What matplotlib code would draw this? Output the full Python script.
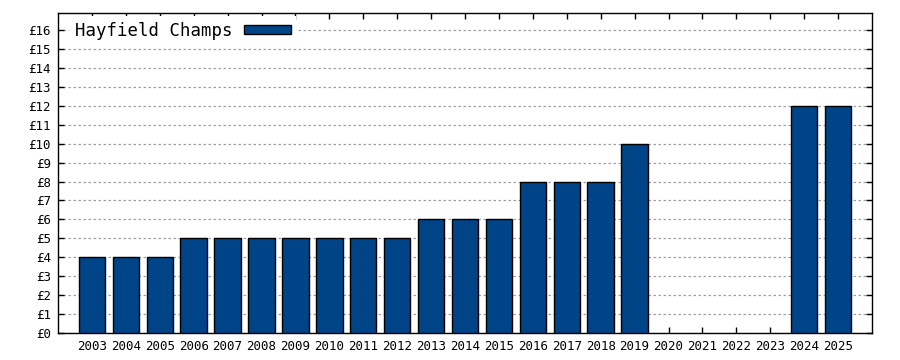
import numpy as np
import matplotlib
matplotlib.use("Agg")
import matplotlib.pyplot as plt

years = list(range(2003, 2026))
prices = [4, 4, 4, 5, 5, 5, 5, 5, 5, 5, 6, 6, 6, 8, 8, 8, 10,
          np.nan, np.nan, np.nan, np.nan, 12, 12]
series_name = "Hayfield Champs"
yticks = list(range(0, 17))
ytick_labels = [f"\u00a3{v}" for v in yticks]

plt.rcParams["font.family"] = "DejaVu Sans Mono"

fig = plt.figure(figsize=(9, 3.6), dpi=100)
ax = fig.add_axes([58 / 900, 27 / 360, 814 / 900, 320 / 360])

ax.bar(years, prices, width=0.78, color="#004488", edgecolor="black",
       linewidth=1.0, label=series_name, zorder=3)

ax.set_xlim(2002, 2026)
ax.set_ylim(0, 16.9)
ax.set_xticks(years)
ax.set_xticklabels([str(y) for y in years], fontsize=9)
ax.set_yticks(yticks)
ax.set_yticklabels(ytick_labels, fontsize=9)
ax.tick_params(direction="in", top=True, right=True, length=4, width=1, pad=5)
ax.tick_params(axis="y", labelright=False)

ax.yaxis.grid(True, color="#a0a0a0", linestyle=(0, (2, 2)), linewidth=0.9, zorder=0)
ax.set_axisbelow(True)
for s in ax.spines.values():
    s.set_linewidth(1.0)

leg = ax.legend(loc="upper left", bbox_to_anchor=(8 / 814, 1.0),
                fontsize=12.5, markerfirst=False,
                frameon=True, facecolor="white", edgecolor="none", framealpha=1,
                handlelength=2.7, handleheight=0.5, borderaxespad=0.2,
                borderpad=0.3, handletextpad=0.7, fancybox=False)
leg.set_zorder(5)

fig.savefig("out.png", dpi=100)
